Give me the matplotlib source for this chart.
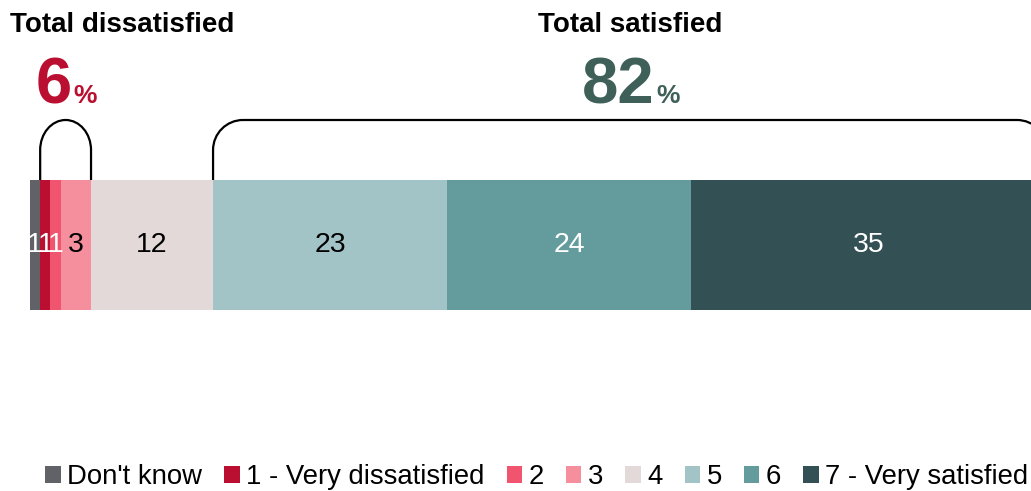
import matplotlib.pyplot as plt
from matplotlib.path import Path
from matplotlib.patches import PathPatch, Patch

plt.rcParams['font.family'] = ['Liberation Sans', 'DejaVu Sans']

# 满意度分布（%）
categories = ["Don't know", '1 - Very dissatisfied', '2', '3', '4', '5', '6', '7 - Very satisfied']
values = [1, 1, 1, 3, 12, 23, 24, 35]
colors = ['#606268', '#BA0F30', '#F0546E', '#F58E9D', '#E2D9D8', '#A3C4C6', '#649C9E', '#335154']
label_colors = ['white', 'white', 'white', 'black', 'black', 'black', 'white', 'white']

total_dissatisfied = 6
total_satisfied = 82

W, H = 1031, 491
fig = plt.figure(figsize=(W / 100, H / 100), dpi=100)

# 坐标轴：x 为百分比（右端略超出画布），y 用像素（向下递增）
left_px, span_px = 30, 1017
ax = fig.add_axes([left_px / W, 0, span_px / W, 1])
ax.set_xlim(0, 100)
ax.set_ylim(H, 0)
ax.axis('off')

bar_top, bar_bottom = 180, 310
bar_mid = (bar_top + bar_bottom) / 2
starts = []
acc = 0
for v in values:
    starts.append(acc)
    acc += v

ax.barh(bar_mid, values, left=starts, height=bar_bottom - bar_top,
        color=colors, edgecolor='none')

for s, v, c in zip(starts, values, label_colors):
    ax.text(s + v / 2, bar_mid, f'{v}', ha='center', va='center',
            fontsize=20.5, color=c)

px_per_unit = span_px / 100


def bracket(x0, x1, y_base, y_top, r_px=30):
    """在柱子上方画圆角括号"""
    rx = min(r_px / px_per_unit, (x1 - x0) / 2)
    ry = r_px
    k = 0.5523
    verts = [
        (x0, y_base), (x0, y_top + ry),
        (x0, y_top + ry - k * ry), (x0 + rx - k * rx, y_top), (x0 + rx, y_top),
        (x1 - rx, y_top),
        (x1 - rx + k * rx, y_top), (x1, y_top + ry - k * ry), (x1, y_top + ry),
        (x1, y_base),
    ]
    codes = [Path.MOVETO, Path.LINETO,
             Path.CURVE4, Path.CURVE4, Path.CURVE4,
             Path.LINETO,
             Path.CURVE4, Path.CURVE4, Path.CURVE4,
             Path.LINETO]
    ax.add_patch(PathPatch(Path(verts, codes), fill=False, lw=1.6,
                           edgecolor='black', clip_on=False))


bracket(starts[1], starts[4], bar_top, 120)
bracket(starts[5], 100, bar_top, 120)


def fx(px):
    return px / W


def fy(py):
    return 1 - py / H


fig.text(fx(10), fy(32), 'Total dissatisfied', fontsize=20, fontweight='bold',
         ha='left', va='baseline')
fig.text(fx(538), fy(32), 'Total satisfied', fontsize=20, fontweight='bold',
         ha='left', va='baseline')

red, green = '#BA0F30', '#3F6058'
fig.text(fx(72), fy(103), f'{total_dissatisfied}', fontsize=47, fontweight='bold',
         color=red, ha='right', va='baseline')
fig.text(fx(73), fy(103), '%', fontsize=19, fontweight='bold',
         color=red, ha='left', va='baseline')
fig.text(fx(655), fy(103), f'{total_satisfied}', fontsize=47, fontweight='bold',
         color=green, ha='right', va='baseline')
fig.text(fx(656), fy(103), '%', fontsize=19, fontweight='bold',
         color=green, ha='left', va='baseline')

handles = [Patch(facecolor=c, edgecolor='none') for c in colors]
fig.legend(handles, categories, loc='center', bbox_to_anchor=(fx(537), fy(477)),
           ncol=len(categories), frameon=False, fontsize=19.8,
           handlelength=0.55, handleheight=0.55, handletextpad=0.25,
           columnspacing=0.8, borderaxespad=0, borderpad=0)

fig.savefig('out.png', dpi=100)
